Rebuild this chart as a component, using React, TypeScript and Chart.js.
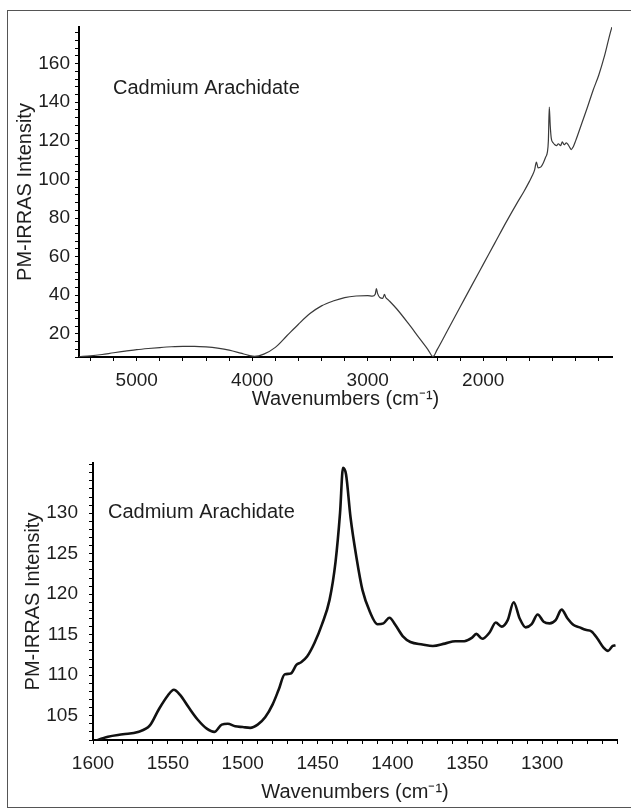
import React, { useEffect, useRef } from 'react';
import { Chart, registerables } from 'chart.js';

Chart.register(...registerables);

// ---------- data ----------
const topWavenumbers = [
  5500, 5400, 5300, 5200, 5100, 5000, 4900, 4800, 4700, 4600, 4500, 4400, 4300, 4200, 4100, 4030, 3980,
  3900, 3800, 3700, 3600, 3500, 3400, 3300, 3200, 3100, 3000, 2960, 2935, 2925, 2915, 2895, 2870, 2855,
  2845, 2820, 2750, 2650, 2550, 2480, 2435, 2400, 2300, 2200, 2100, 2000, 1900, 1800, 1700, 1650, 1600,
  1575, 1555, 1540, 1525, 1500, 1480, 1460, 1445, 1436, 1428, 1420, 1410, 1395, 1380, 1365, 1350, 1330,
  1315, 1300, 1280, 1265, 1250, 1238, 1220, 1200, 1150, 1100, 1050, 1000, 950, 900, 885,
];
const topIntensity = [
  8.2, 8.6, 9.3, 10.2, 11.0, 11.8, 12.4, 12.9, 13.3, 13.5, 13.5, 13.2, 12.6, 11.6, 10.0, 8.8, 8.3,
  9.5, 13.0, 19.0, 25.0, 30.5, 34.5, 37.0, 38.8, 39.6, 39.8, 39.5, 40.5, 43.5, 41.0, 38.8, 38.4, 40.5,
  39.0, 37.5, 33.0, 25.5, 17.5, 12.0, 8.2, 11.7, 22.8, 33.9, 45.0, 56.0, 67.0, 78.0, 88.5, 93.5, 99.0,
  102.0, 105.0, 109.0, 106.0, 106.5, 108.5, 111.5, 114.0, 120.0, 137.5, 128.0, 121.0, 119.0, 118.0, 117.5, 118.5, 117.5,
  119.5, 118.0, 119.0, 118.0, 116.5, 115.5, 117.0, 120.0, 128.5, 137.0, 146.0, 154.0, 164.0, 176.0, 179.0,
];

const bottomWavenumbers = [
  1600, 1590, 1580, 1570, 1562, 1556, 1550, 1546, 1542, 1536, 1530, 1524, 1519, 1514, 1510, 1505, 1500,
  1495, 1490, 1485, 1480, 1476, 1472, 1468, 1464, 1461, 1457, 1452, 1447, 1442, 1438, 1435, 1433, 1431,
  1428, 1424, 1420, 1415, 1410, 1406, 1402, 1398, 1393, 1388, 1380, 1373, 1365, 1358, 1352, 1347, 1344,
  1340, 1335, 1331, 1327, 1323, 1319, 1315, 1311, 1307, 1303, 1299, 1295, 1291, 1287, 1283, 1279, 1275,
  1271, 1267, 1263, 1259, 1256, 1253, 1251,
];
const bottomIntensity = [
  101.8, 102.4, 102.7, 103.0, 103.8, 105.8, 107.5, 108.2, 107.6, 106.0, 104.5, 103.4, 103.0, 103.9, 104.0, 103.7, 103.6,
  103.5, 103.9, 104.8, 106.4, 108.2, 110.1, 110.2, 111.3, 111.6, 112.3, 114.0, 116.3, 119.3, 124.0, 130.0, 135.6, 134.8,
  129.5, 124.5, 120.5, 117.8, 116.3, 116.4, 117.1, 116.2, 114.8, 114.1, 113.8, 113.6, 113.9, 114.2, 114.2, 114.6, 115.1,
  114.5, 115.3, 116.5, 116.0, 116.8, 119.0, 117.0, 115.9, 116.3, 117.5, 116.6, 116.4, 116.8, 118.1, 117.0, 116.2, 115.9,
  115.6, 115.4, 114.5, 113.4, 113.0, 113.6, 113.7,
];

const topXTickLabels = [5000, 4000, 3000, 2000];
const topYTickLabels = [20, 40, 60, 80, 100, 120, 140, 160];
const bottomXTickLabels = [1600, 1550, 1500, 1450, 1400, 1350, 1300];
const bottomYTickLabels = [105, 110, 115, 120, 125, 130];

const annotationText = 'Cadmium Arachidate';
const xAxisTitle = 'Wavenumbers (cm\u207B\u00B9)';
const yAxisTitle = 'PM-IRRAS Intensity';

// ---------- styling ----------
const FONT = '"Liberation Sans", Arial, Helvetica, sans-serif';
const TEXT_COLOR = '#1e1e1e';

function stepsBetween(lo: number, hi: number, step: number): number[] {
  const out: number[] = [];
  const start = Math.ceil(lo / step - 1e-9) * step;
  for (let v = start; v <= hi + 1e-9; v += step) out.push(Math.round(v * 1000) / 1000);
  return out;
}

type PanelSpec = {
  wn: number[];
  val: number[];
  xMin: number;
  xMax: number;
  xStep: number;
  xLabels: number[];
  yMin: number;
  yMax: number;
  yStep: number;
  yLabels: number[];
  lineWidth: number;
  lineColor: string;
  padTop: number;
  padRight: number;
  padBottom: number;
  yWidth: number;
  xHeight: number;
  yTickPad: number;
  yTitlePad: number;
  annX: number;
  annY: number;
};

function makeConfig(p: PanelSpec): any {
  const points = p.wn.map((w, i) => ({ x: w, y: p.val[i] }));
  const xTicks = stepsBetween(p.xMin, p.xMax, p.xStep);
  const yTicks = stepsBetween(p.yMin, p.yMax, p.yStep);
  const annotationPlugin = {
    id: 'annotationText',
    afterDraw(chart: any) {
      const ctx = chart.ctx;
      ctx.save();
      ctx.font = `20px ${FONT}`;
      ctx.fillStyle = TEXT_COLOR;
      ctx.textBaseline = 'middle';
      ctx.textAlign = 'left';
      ctx.fillText(annotationText, p.annX, p.annY);
      ctx.restore();
    },
  };
  const labelOf = (labels: number[]) => (v: number) => {
    const r = Math.round(v);
    return Math.abs(v - r) < 1e-6 && labels.includes(r) ? String(r) : '';
  };
  return {
    type: 'line',
    data: {
      datasets: [
        {
          data: points,
          borderColor: p.lineColor,
          borderWidth: p.lineWidth,
          pointRadius: 0,
          fill: false,
          cubicInterpolationMode: 'monotone',
        },
      ],
    },
    options: {
      animation: false,
      responsive: false,
      maintainAspectRatio: false,
      layout: { padding: { top: p.padTop, right: p.padRight, bottom: p.padBottom, left: 0 } },
      plugins: { legend: { display: false }, tooltip: { enabled: false } },
      scales: {
        x: {
          type: 'linear',
          reverse: true,
          min: p.xMin,
          max: p.xMax,
          afterBuildTicks(scale: any) {
            scale.ticks = xTicks.map((v) => ({ value: v }));
          },
          afterFit(scale: any) {
            scale.height = p.xHeight;
          },
          border: { display: true, color: '#000', width: 2 },
          grid: { display: true, drawOnChartArea: false, drawTicks: true, tickLength: 4, tickColor: '#000', tickWidth: 1 },
          ticks: {
            autoSkip: false,
            maxRotation: 0,
            minRotation: 0,
            padding: 8,
            color: TEXT_COLOR,
            font: { family: FONT, size: 19 },
            callback: labelOf(p.xLabels),
          },
          title: {
            display: true,
            text: xAxisTitle,
            color: TEXT_COLOR,
            font: { family: FONT, size: 20 },
            padding: { top: 0, bottom: 0 },
          },
        },
        y: {
          type: 'linear',
          min: p.yMin,
          max: p.yMax,
          afterBuildTicks(scale: any) {
            scale.ticks = yTicks.map((v) => ({ value: v }));
          },
          afterFit(scale: any) {
            scale.width = p.yWidth;
          },
          border: { display: true, color: '#000', width: 2 },
          grid: { display: true, drawOnChartArea: false, drawTicks: true, tickLength: 4, tickColor: '#000', tickWidth: 1 },
          ticks: {
            autoSkip: false,
            padding: p.yTickPad,
            color: TEXT_COLOR,
            font: { family: FONT, size: 19 },
            callback: labelOf(p.yLabels),
          },
          title: {
            display: true,
            text: yAxisTitle,
            color: TEXT_COLOR,
            font: { family: FONT, size: 20 },
            padding: { top: p.yTitlePad, bottom: 0 },
          },
        },
      },
    },
    plugins: [annotationPlugin],
  };
}

const topSpec: PanelSpec = {
  wn: topWavenumbers,
  val: topIntensity,
  xMin: 885,
  xMax: 5500,
  xStep: 200,
  xLabels: topXTickLabels,
  yMin: 8,
  yMax: 179,
  yStep: 4,
  yLabels: topYTickLabels,
  lineWidth: 1.2,
  lineColor: '#3a3a3a',
  padTop: 27,
  padRight: 19,
  padBottom: 9,
  yWidth: 79,
  xHeight: 54,
  yTickPad: 5,
  yTitlePad: 13,
  annX: 113,
  annY: 88,
};

const bottomSpec: PanelSpec = {
  wn: bottomWavenumbers,
  val: bottomIntensity,
  xMin: 1250,
  xMax: 1600,
  xStep: 10,
  xLabels: bottomXTickLabels,
  yMin: 102,
  yMax: 136.2,
  yStep: 1,
  yLabels: bottomYTickLabels,
  lineWidth: 2.6,
  lineColor: '#111',
  padTop: 43,
  padRight: 14,
  padBottom: 4,
  yWidth: 93,
  xHeight: 64,
  yTickPad: 11,
  yTitlePad: 21,
  annX: 108,
  annY: 92,
};

function Panel({ spec, top, height }: { spec: PanelSpec; top: number; height: number }) {
  const ref = useRef<HTMLCanvasElement | null>(null);
  useEffect(() => {
    if (!ref.current) return;
    const chart = new Chart(ref.current, makeConfig(spec));
    return () => chart.destroy();
  }, [spec]);
  return (
    <canvas
      ref={ref}
      width={631}
      height={height}
      style={{ position: 'absolute', left: 0, top, width: 631, height, display: 'block' }}
    />
  );
}

export default function App() {
  return (
    <div style={{ position: 'fixed', left: 0, top: 0, width: 631, height: 808, background: '#fff', overflow: 'hidden' }}>
      <div
        style={{
          position: 'absolute',
          left: 7,
          top: 10,
          width: 640,
          height: 798,
          boxSizing: 'border-box',
          border: '1px solid #555',
        }}
      />
      <Panel spec={topSpec} top={0} height={420} />
      <Panel spec={bottomSpec} top={420} height={388} />
    </div>
  );
}
